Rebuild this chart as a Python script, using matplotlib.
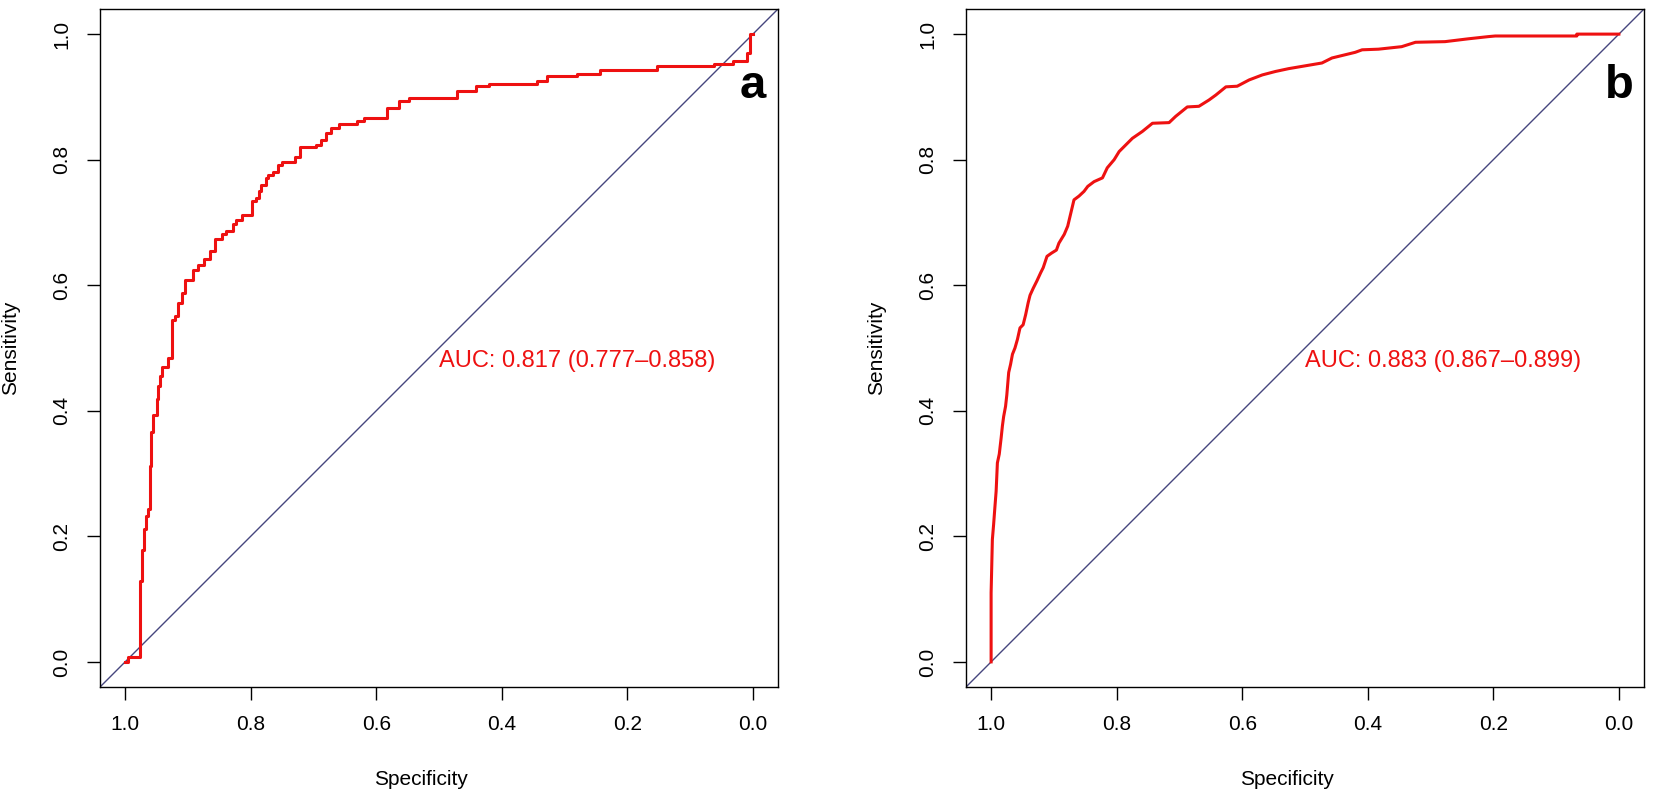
import matplotlib
matplotlib.use("Agg")
import matplotlib.pyplot as plt

plt.rcParams['font.family'] = ['Liberation Sans', 'DejaVu Sans']

# panel a: ROC corner points (specificity, sensitivity), drawn as steps
spec_a = [1.000, 0.996, 0.9755, 0.973, 0.970, 0.966, 0.963, 0.961, 0.958, 0.9555,
          0.950, 0.948, 0.945, 0.941, 0.932, 0.926, 0.920, 0.916, 0.909, 0.904,
          0.892, 0.884, 0.875, 0.865, 0.857, 0.845, 0.839, 0.828, 0.823, 0.814,
          0.798, 0.792, 0.786, 0.783, 0.775, 0.772, 0.765, 0.757, 0.750, 0.730,
          0.722, 0.696, 0.688, 0.680, 0.672, 0.659, 0.630, 0.619, 0.583, 0.563,
          0.547, 0.4715, 0.441, 0.420, 0.344, 0.3275, 0.280, 0.243, 0.153, 0.062,
          0.031, 0.0095, 0.004, 0.000]
sens_a = [0.000, 0.008, 0.129, 0.178, 0.211, 0.232, 0.243, 0.312, 0.366, 0.394,
          0.418, 0.440, 0.455, 0.469, 0.484, 0.544, 0.551, 0.572, 0.588, 0.609,
          0.624, 0.633, 0.641, 0.654, 0.674, 0.681, 0.686, 0.697, 0.704, 0.712,
          0.734, 0.739, 0.750, 0.760, 0.771, 0.776, 0.780, 0.792, 0.796, 0.805,
          0.820, 0.824, 0.832, 0.842, 0.851, 0.857, 0.861, 0.867, 0.882, 0.894,
          0.899, 0.910, 0.917, 0.921, 0.926, 0.9325, 0.937, 0.943, 0.9485, 0.953,
          0.9575, 0.970, 1.000, 1.000]

# panel b: ROC curve points (specificity, sensitivity)
spec_b = [1.000, 1.000, 0.998, 0.996, 0.994, 0.992, 0.990, 0.987, 0.984, 0.982,
          0.980, 0.977, 0.975, 0.972, 0.969, 0.966, 0.962, 0.958, 0.954, 0.949,
          0.945, 0.941, 0.938, 0.933, 0.927, 0.921, 0.917, 0.911, 0.904, 0.896,
          0.892, 0.8835, 0.878, 0.873, 0.868, 0.860, 0.852, 0.846, 0.836, 0.8226,
          0.815, 0.804, 0.796, 0.785, 0.775, 0.759, 0.743, 0.7165, 0.706, 0.6875,
          0.669, 0.653, 0.642, 0.626, 0.608, 0.589, 0.568, 0.547, 0.526, 0.473,
          0.457, 0.420, 0.409, 0.383, 0.346, 0.324, 0.277, 0.240, 0.208, 0.197,
          0.067, 0.067, 0.000]
sens_b = [0.000, 0.110, 0.195, 0.219, 0.246, 0.272, 0.317, 0.331, 0.357, 0.376,
          0.391, 0.407, 0.425, 0.461, 0.474, 0.490, 0.500, 0.514, 0.532, 0.537,
          0.553, 0.572, 0.584, 0.595, 0.607, 0.620, 0.628, 0.646, 0.651, 0.656,
          0.667, 0.681, 0.694, 0.715, 0.736, 0.742, 0.7495, 0.7575, 0.765, 0.771,
          0.787, 0.800, 0.813, 0.824, 0.834, 0.845, 0.858, 0.859, 0.869, 0.884,
          0.885, 0.895, 0.903, 0.916, 0.917, 0.927, 0.935, 0.9405, 0.945, 0.954,
          0.962, 0.971, 0.975, 0.976, 0.980, 0.987, 0.988, 0.9925, 0.996, 0.997,
          0.997, 1.000, 1.000]

auc_texts = ["AUC: 0.817 (0.777\u20130.858)", "AUC: 0.883 (0.867\u20130.899)"]
panel_letters = ["a", "b"]
ticks = [0.0, 0.2, 0.4, 0.6, 0.8, 1.0]
tick_labels = ["0.0", "0.2", "0.4", "0.6", "0.8", "1.0"]

RED = '#ee1111'
DIAG = '#46467e'

fig = plt.figure(figsize=(16.54, 7.9), dpi=100)
ax_a = fig.add_axes([100 / 1654, 1 - 687 / 790, 678 / 1654, 678 / 790])
ax_b = fig.add_axes([966 / 1654, 1 - 687 / 790, 678 / 1654, 678 / 790])

for i, ax in enumerate([ax_a, ax_b]):
    ax.axline((1, 0), (0, 1), color=DIAG, lw=1.0, zorder=1)
    if i == 0:
        ax.plot(spec_a, sens_a, drawstyle='steps-post', color=RED, lw=2.2, zorder=2)
    else:
        ax.plot(spec_b, sens_b, color=RED, lw=2.2, zorder=2)

    ax.set_xlim(1.04, -0.04)
    ax.set_ylim(-0.04, 1.04)
    ax.set_xticks(ticks)
    ax.set_xticklabels(tick_labels)
    ax.set_yticks(ticks)
    ax.set_yticklabels(tick_labels, rotation=90, va='center')
    ax.tick_params(direction='out', length=9.5, width=1.0, labelsize=15, pad=11)
    for s in ax.spines.values():
        s.set_linewidth(1.0)

    ax.set_xlabel('Specificity', fontsize=15)
    ax.set_ylabel('Sensitivity', fontsize=15)
    ax.xaxis.set_label_coords(0.474, -0.1224)
    ax.yaxis.set_label_coords(-0.118, 0.5)

    ax.text(0.5, 0.47, auc_texts[i], color=RED, fontsize=17, ha='left', va='baseline')
    ax.text(0.0, 0.898, panel_letters[i], fontsize=34, fontweight='bold', ha='center', va='baseline')

fig.savefig('out.png', dpi=100)
